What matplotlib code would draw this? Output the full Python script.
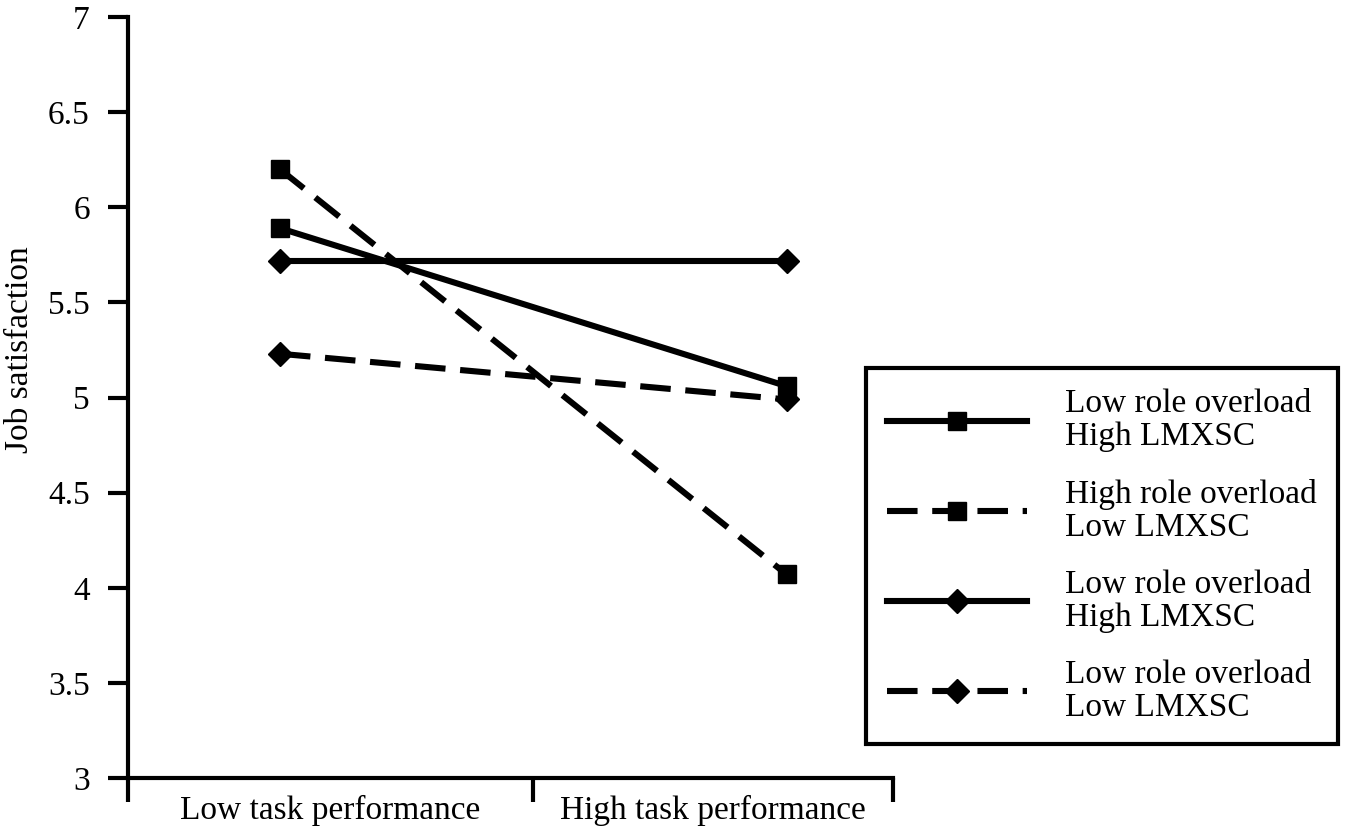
import matplotlib
matplotlib.use("Agg")

import matplotlib.pyplot as plt
from matplotlib.ticker import FixedLocator, FuncFormatter
import numpy as np

# data
categories = ["Low task performance", "High task performance"]
labels = [
    "Low role overload\nHigh LMXSC",
    "High role overload\nLow LMXSC",
    "Low role overload\nHigh LMXSC",
    "Low role overload\nLow LMXSC",
]
sq_solid = [5.89, 5.06]
sq_dashed = [6.20, 4.07]
di_solid = [5.72, 5.72]
di_dashed = [5.23, 4.99]
yticks = [3, 3.5, 4, 4.5, 5, 5.5, 6, 6.5, 7]

plt.rcParams["font.family"] = ["Liberation Serif", "DejaVu Serif"]
FS = 24

fig = plt.figure(figsize=(13.54, 8.39), dpi=100)
ax = fig.add_axes([0.0945, 0.0727, 0.565, 0.907])

x = np.arange(len(categories))
lw = 4.4
dash = (5, 2.4)

ax.plot(x, sq_solid, color="black", lw=lw, marker="s", ms=13, label=labels[0])
ax.plot(x, sq_dashed, color="black", lw=lw, ls=(0, dash), marker="s", ms=13, label=labels[1])
ax.plot(x, di_solid, color="black", lw=lw, marker="D", ms=12, label=labels[2])
ax.plot(x, di_dashed, color="black", lw=lw, ls=(0, dash), marker="D", ms=12, label=labels[3])

x0, x1 = -0.30, 1.21
ax.set_xlim(x0, x1)
ax.set_ylim(yticks[0], yticks[-1])

# category boundaries as ticks, names centred between them
bounds = [x0, 0.5, x1]
ax.xaxis.set_major_locator(FixedLocator(bounds))
ax.xaxis.set_major_formatter(FuncFormatter(lambda v, p: ""))
centers = [(bounds[i] + bounds[i + 1]) / 2 for i in range(len(categories))]
ax.xaxis.set_minor_locator(FixedLocator(centers))
ax.set_xticklabels(categories, minor=True)
ax.tick_params(axis="x", which="major", length=17, width=3, direction="out")
ax.tick_params(axis="x", which="minor", length=0, labelsize=FS, pad=12)

ax.set_yticks(yticks)
ax.yaxis.set_major_formatter(FuncFormatter(lambda v, p: f"{v:g}"))
ax.tick_params(axis="y", length=14.5, width=3, labelsize=FS, pad=13)

for side in ["top", "right"]:
    ax.spines[side].set_visible(False)
for side in ["left", "bottom"]:
    ax.spines[side].set_linewidth(3)

ax.set_ylabel("Job satisfaction", fontsize=FS)
ax.yaxis.set_label_coords(-0.121, 0.5625)

leg = ax.legend(loc="upper left", bbox_to_anchor=(0.6396, 0.5614),
                bbox_transform=fig.transFigure, fontsize=FS,
                handlelength=4.2, handletextpad=1.15, labelspacing=0.8,
                borderpad=0.63, borderaxespad=0, fancybox=False,
                framealpha=1, edgecolor="black")
leg.get_frame().set_linewidth(3)
for t in leg.get_texts():
    t.set_linespacing(1.1)

fig.savefig("out.png", dpi=100)
